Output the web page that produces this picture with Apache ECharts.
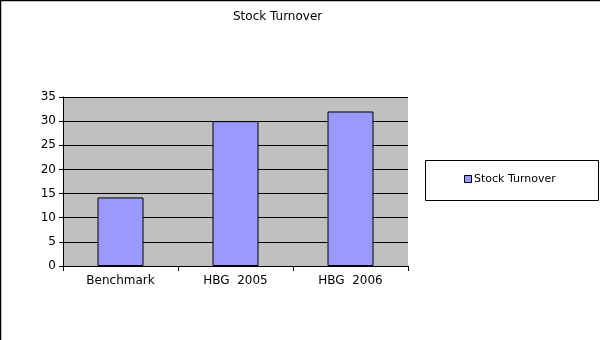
<!DOCTYPE html>
<html><head><meta charset="utf-8">
<script src="https://cdn.jsdelivr.net/npm/echarts@6/dist/echarts.min.js"></script>
<style>html,body{margin:0;padding:0;background:#fff}#c{width:605px;height:340px}</style>
</head><body><div id="c"></div>
<script>
const categories = ['Benchmark', 'HBG  2005', 'HBG  2006'];
const stockTurnover = [14.2, 30, 32];
const seriesName = 'Stock Turnover';
const titleText = 'Stock Turnover';

const chart = echarts.init(document.getElementById('c'), null, {renderer: 'canvas'});
const font = 'DejaVu Sans';
chart.setOption({
  animation: false,
  backgroundColor: '#fff',
  title: {text: titleText, left: 233, top: 11, padding: 0,
    textStyle: {fontFamily: font, fontSize: 12, fontWeight: 'normal', color: '#000'}},
  legend: {show: false},
  grid: {left: 63, right: 197, top: 97, bottom: 74, show: true, backgroundColor: '#c0c0c0', borderWidth: 0, containLabel: false},
  xAxis: {
    type: 'category', data: categories, boundaryGap: true,
    axisLine: {lineStyle: {color: '#000', width: 1}},
    axisTick: {show: true, length: 5, lineStyle: {color: '#000'}},
    axisLabel: {fontFamily: font, fontSize: 12, color: '#000', margin: 9}
  },
  yAxis: {
    type: 'value', min: 0, max: 35, interval: 5,
    axisLine: {show: true, lineStyle: {color: '#000', width: 1}},
    axisTick: {show: true, length: 4, lineStyle: {color: '#000'}},
    axisLabel: {fontFamily: font, fontSize: 12, color: '#000', margin: 7},
    splitLine: {show: true, lineStyle: {color: '#000', width: 1}}
  },
  series: [{
    name: seriesName, type: 'bar', data: stockTurnover, barWidth: 46,
    itemStyle: {color: '#9999ff', borderColor: '#000', borderWidth: 1}
  }],
  graphic: [
    {type: 'line', shape: {x1: 0, y1: 0.5, x2: 600, y2: 0.5}, style: {stroke: '#000', lineWidth: 1.5}},
    {type: 'line', shape: {x1: 0.5, y1: 0, x2: 0.5, y2: 340}, style: {stroke: '#000', lineWidth: 1.5}},
    {type: 'rect', shape: {x: 425.5, y: 160.5, width: 173, height: 40}, style: {fill: 'none', stroke: '#000', lineWidth: 1}},
    {type: 'rect', shape: {x: 464.5, y: 175.5, width: 7, height: 7}, style: {fill: '#9999ff', stroke: '#000', lineWidth: 1}},
    {type: 'text', x: 474, y: 179.5, style: {text: seriesName, fontFamily: font, fontSize: 11, fill: '#000', verticalAlign: 'middle'}}
  ]
});
</script></body></html>
